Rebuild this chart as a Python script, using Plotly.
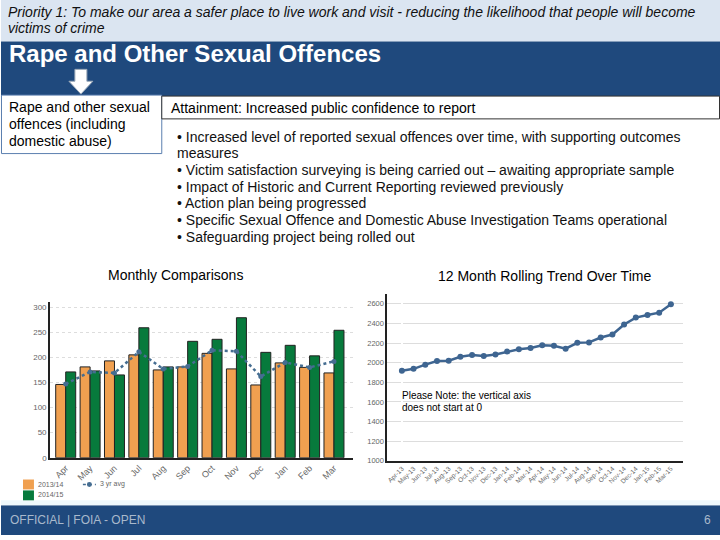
import plotly.graph_objects as go

# ---------------- data ----------------
months = ["Apr", "May", "Jun", "Jul", "Aug", "Sep", "Oct", "Nov", "Dec", "Jan", "Feb", "Mar"]
fy_2013_14 = [146, 181, 193, 205, 175, 181, 208, 177, 145, 189, 180, 169]
fy_2014_15 = [171, 173, 165, 259, 181, 232, 236, 279, 210, 224, 203, 254]
avg_3yr = [147, 171, 169, 211, 177, 182, 214, 212, 162, 190, 180, 192]

roll_labels = ["Apr-13", "May-13", "Jun-13", "Jul-13", "Aug-13", "Sep-13", "Oct-13", "Nov-13",
               "Dec-13", "Jan-14", "Feb-14", "Mar-14", "Apr-14", "May-14", "Jun-14", "Jul-14",
               "Aug-14", "Sep-14", "Oct-14", "Nov-14", "Dec-14", "Jan-15", "Feb-15", "Mar-15"]
roll_values = [1917, 1937, 1980, 2017, 2020, 2060, 2077, 2067, 2083, 2113, 2137, 2150,
               2177, 2173, 2143, 2203, 2207, 2257, 2287, 2390, 2460, 2487, 2510, 2597]

bar_ticks = [0, 50, 100, 150, 200, 250, 300]
roll_ticks = [1000, 1200, 1400, 1600, 1800, 2000, 2200, 2400, 2600]

header_lines = ["Priority 1: To make our area a safer place to live work and visit - reducing the likelihood that people will become",
                "victims of crime"]
box_lines = ["Rape and other sexual", "offences (including", "domestic abuse)"]
bullet_lines = ["• Increased level of reported sexual offences over time, with supporting outcomes",
                "measures",
                "• Victim satisfaction surveying is being carried out – awaiting appropriate sample",
                "• Impact of Historic and Current Reporting reviewed previously",
                "• Action plan being progressed",
                "• Specific Sexual Offence and Domestic Abuse Investigation Teams operational",
                "• Safeguarding project being rolled out"]

W, H = 720, 540
def px(x):
    return x / W
def py(y):
    return 1 - y / H

FONT = "Liberation Sans, Arial, sans-serif"
DARK = "#1F497D"
ORANGE = "#F0A050"
GREEN = "#077A3C"
AVG = "#456D91"
LINEC = "#3E6591"

fig = go.Figure()

fig.add_trace(go.Bar(x=months, y=fy_2013_14, name="2013/14", marker=dict(color=ORANGE, line=dict(color="#222222", width=1)),
                     xaxis="x", yaxis="y", showlegend=False))
fig.add_trace(go.Bar(x=months, y=fy_2014_15, name="2014/15", marker=dict(color=GREEN, line=dict(color="#222222", width=1)),
                     xaxis="x", yaxis="y", showlegend=False))
fig.add_trace(go.Scatter(x=months, y=avg_3yr, name="3 yr avg", mode="lines+markers",
                         line=dict(color=AVG, width=2.5, dash="dot"),
                         marker=dict(color=AVG, size=5),
                         xaxis="x", yaxis="y", showlegend=False))

fig.add_trace(go.Scatter(x=list(range(len(roll_values))), y=roll_values, mode="lines+markers",
                         line=dict(color=LINEC, width=2.5), marker=dict(color=LINEC, size=6),
                         xaxis="x2", yaxis="y2", showlegend=False))

def rect(x0, y0, x1, y1, fill, line=None, layer="above"):
    return dict(type="rect", xref="paper", yref="paper", x0=px(x0), x1=px(x1), y0=py(y1), y1=py(y0),
                fillcolor=fill, line=line or dict(width=0), layer=layer)

shapes = [
    rect(0, 0, 720, 42, "#DBE5F1", layer="below"),
    rect(0, 42, 720, 97, DARK, layer="below"),
    rect(0, 510, 720, 540, DARK, layer="below"),
    rect(0, 505, 720, 510, "#EEF8FC", layer="below"),
    rect(0.5, 96, 161, 155, "white", dict(color="#5B7FAF", width=1)),
    rect(161, 97, 719.5, 120, "white", dict(color="#333333", width=1)),
    dict(type="path", xref="paper", yref="paper",
         path="M {a},{b} L {c},{b} L {c},{d} L {e},{d} L {f},{g} L {h},{d} L {i},{d} Z".format(
             a=px(74), b=py(70), c=px(86), d=py(82), e=px(92), f=px(80), g=py(95), h=px(68), i=px(74)),
         fillcolor="white", line=dict(color="#9AA8B8", width=1)),
    # legend swatches
    rect(22, 484, 33, 494, ORANGE),
    rect(22, 495, 33, 505, GREEN),
    dict(type="line", xref="paper", yref="paper", x0=px(82), x1=px(95), y0=py(489), y1=py(489),
         line=dict(color=AVG, width=1.5, dash="dot")),
    dict(type="circle", xref="paper", yref="paper", x0=px(86), x1=px(91), y0=py(491.5), y1=py(486.5),
         fillcolor=AVG, line=dict(width=0)),
]

def ann(x, y, text, size=14, color="black", xanchor="left", yanchor="middle", align="left"):
    return dict(x=px(x), y=py(y), xref="paper", yref="paper", text=text, showarrow=False,
                xanchor=xanchor, yanchor=yanchor, align=align, font=dict(family=FONT, size=size, color=color))

annotations = []
for i, t in enumerate(header_lines):
    annotations.append(ann(5, 12 + 16.5 * i, "<i>" + t + "</i>", size=14, color="#111111"))
annotations.append(ann(6, 54, "<b>Rape and Other Sexual Offences</b>", size=24, color="white"))
for i, t in enumerate(box_lines):
    annotations.append(ann(6, 108 + 17 * i, t, size=14))
annotations.append(ann(168, 109, "Attainment: Increased public confidence to report", size=14))
for i, t in enumerate(bullet_lines):
    annotations.append(ann(174, 138 + 16.8 * i, t, size=14, color="#111111"))
annotations += [
    ann(175, 278, "Monthly Comparisons", size=14, xanchor="center"),
    ann(544, 279, "12 Month Rolling Trend Over Time", size=14, xanchor="center"),
    ann(400, 399, "Please Note: the vertical axis", size=10),
    ann(400, 411, "does not start at 0", size=10),
    ann(7, 525, "OFFICIAL | FOIA - OPEN", size=12, color="#A9B9CC"),
    ann(713, 525, "6", size=12, color="#A9B9CC", xanchor="right"),
    ann(35, 489, "2013/14", size=7, color="#666666"),
    ann(35, 499.5, "2014/15", size=7, color="#666666"),
    ann(97, 489, "3 yr avg", size=7, color="#666666"),
]

tickfont = dict(family=FONT, size=8, color="#666666")

fig.update_layout(
    width=W, height=H, margin=dict(l=0, r=0, t=0, b=0),
    paper_bgcolor="white", plot_bgcolor="white", showlegend=False,
    barmode="group", bargap=0.18, bargroupgap=0,
    shapes=shapes, annotations=annotations,
    xaxis=dict(domain=[px(49), px(352)], anchor="y", range=[-0.647, 11.76], showline=True, linecolor="#222222",
               linewidth=1.5, tickangle=-45, tickfont=dict(family=FONT, size=9, color="#666666"), ticks="", showgrid=False),
    yaxis=dict(domain=[py(462), py(305)], anchor="x", range=[0, 310], tickvals=bar_ticks, showline=True,
               linecolor="#222222", linewidth=1.5, showgrid=True, gridcolor="#DDDDDD", griddash="dot",
               zeroline=False, tickfont=tickfont, ticks=""),
    xaxis2=dict(domain=[px(386.7), px(683)], anchor="y2", range=[-1.26, 24.04], tickvals=list(range(len(roll_labels))),
                ticktext=roll_labels, showline=True, linecolor="#222222", linewidth=1.5, tickangle=-45,
                tickfont=dict(family=FONT, size=6.5, color="#666666"), ticks="", showgrid=False),
    yaxis2=dict(domain=[py(465), py(296.8)], anchor="x2", range=[1000, 2700], tickvals=roll_ticks, showline=True,
                linecolor="#222222", linewidth=1.5, showgrid=True, gridcolor="#DDDDDD", zeroline=False,
                tickfont=dict(family=FONT, size=7.5, color="#666666"), ticks=""),
)

fig.write_html("out.html", config={"displayModeBar": False},
               post_script="document.body.style.margin='0px';document.body.style.overflow='hidden';")
